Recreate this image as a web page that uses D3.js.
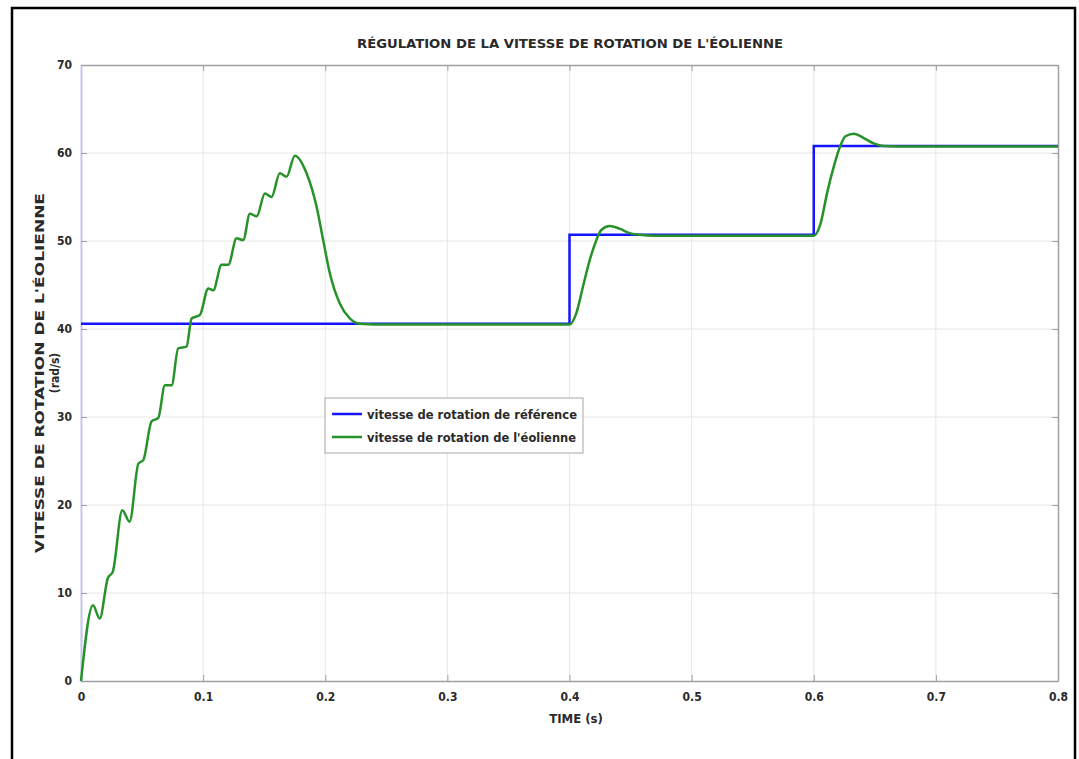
<!DOCTYPE html>
<html>
<head>
<meta charset="utf-8">
<script src="https://cdn.jsdelivr.net/npm/d3@7"></script>
<style>
  body { margin: 0; background: #fff; }
  svg { display: block; }
  text { font-family: "Liberation Sans Narrow", "DejaVu Sans Condensed", sans-serif; fill: #2a2a2a; font-weight: bold; }
</style>
</head>
<body>
<script>
// data
const refTime = [0, 0.4, 0.4, 0.6, 0.6, 0.8];
const refSpeed = [40.6, 40.6, 50.7, 50.7, 60.8, 60.8];

const rotorTime = [0, 0.0098, 0.0153, 0.022, 0.026, 0.0338, 0.0398, 0.047, 0.051, 0.0578,
  0.0633, 0.0687, 0.0742, 0.0796, 0.0864, 0.0906, 0.0974, 0.1042, 0.1083, 0.1151,
  0.1206, 0.1274, 0.1328, 0.1383, 0.1438, 0.1506, 0.156, 0.1628, 0.1683, 0.1751,
  0.1847, 0.1929, 0.1983, 0.2038, 0.2119, 0.2201, 0.2283, 0.25, 0.4, 0.4056,
  0.411, 0.4165, 0.422, 0.426, 0.4329, 0.441, 0.4493, 0.4575, 0.47, 0.6,
  0.6056, 0.611, 0.6165, 0.622, 0.626, 0.633, 0.641, 0.649, 0.657, 0.67, 0.8];
const rotorSpeed = [0, 8.6, 7.1, 11.7, 12.4, 19.4, 18.1, 24.7, 25.1, 29.5,
  29.9, 33.6, 33.6, 37.8, 38.0, 41.2, 41.6, 44.6, 44.4, 47.3,
  47.3, 50.3, 50.1, 53.1, 52.8, 55.4, 55.0, 57.7, 57.3, 59.7,
  57.7, 53.9, 50.1, 46.3, 42.9, 41.2, 40.6, 40.5, 40.5, 41.8,
  44.8, 47.8, 50.1, 51.25, 51.7, 51.4, 50.9, 50.7, 50.6, 50.6,
  52.0, 55.5, 58.5, 60.9, 61.9, 62.2, 61.7, 61.1, 60.8, 60.75, 60.75];

const xTicks = [0, 0.1, 0.2, 0.3, 0.4, 0.5, 0.6, 0.7, 0.8];
const yTicks = [0, 10, 20, 30, 40, 50, 60, 70];

const legendLabels = ['vitesse de rotation de référence', "vitesse de rotation de l'éolienne"];
const colors = ['#1414ff', '#26922a'];

const W = 1079, H = 759;
const plotLeft = 81, plotRight = 1058, plotTop = 65, plotBottom = 681;

const svg = d3.select('body').append('svg')
  .attr('width', W)
  .attr('height', H);

// outer figure frame
svg.append('rect')
  .attr('x', 12).attr('y', 8)
  .attr('width', 1063).attr('height', 780)
  .attr('fill', 'none')
  .attr('stroke', '#000')
  .attr('stroke-width', 2.5);

const x = d3.scaleLinear().domain([0, 0.8]).range([plotLeft, plotRight]);
const y = d3.scaleLinear().domain([0, 70]).range([plotBottom, plotTop]);

// grid
svg.append('g')
  .selectAll('line')
  .data(xTicks.slice(1, -1))
  .join('line')
  .attr('x1', (d) => x(d)).attr('x2', (d) => x(d))
  .attr('y1', plotTop).attr('y2', plotBottom)
  .attr('stroke', '#e6e6e6');
svg.append('g')
  .selectAll('line')
  .data(yTicks.slice(1, -1))
  .join('line')
  .attr('y1', (d) => y(d)).attr('y2', (d) => y(d))
  .attr('x1', plotLeft).attr('x2', plotRight)
  .attr('stroke', '#e6e6e6');

// axes with inward ticks
const fmt = (d) => (d === 0 ? '0' : d3.format('.1f')(d));
const gBottom = svg.append('g').attr('transform', `translate(0,${plotBottom})`)
  .call(d3.axisBottom(x).tickValues(xTicks).tickFormat(fmt).tickSizeInner(-6).tickSizeOuter(0).tickPadding(11));
const gTop = svg.append('g').attr('transform', `translate(0,${plotTop})`)
  .call(d3.axisTop(x).tickValues(xTicks).tickFormat('').tickSizeInner(-6).tickSizeOuter(0));
const gLeft = svg.append('g').attr('transform', `translate(${plotLeft},0)`)
  .call(d3.axisLeft(y).tickValues(yTicks).tickSizeInner(-6).tickSizeOuter(0).tickPadding(9));
const gRight = svg.append('g').attr('transform', `translate(${plotRight},0)`)
  .call(d3.axisRight(y).tickValues(yTicks).tickFormat('').tickSizeInner(-6).tickSizeOuter(0));

[gBottom, gTop, gLeft, gRight].forEach((g) => {
  g.select('.domain').attr('stroke', '#a0a0a0').attr('stroke-width', 1.5);
  g.selectAll('.tick line').attr('stroke', '#a0a0a0');
  g.selectAll('.tick text')
    .attr('font-size', 12)
    .attr('font-family', null)
    .attr('fill', null);
});
// the reference step starts at t = 0, so the left spine reads light blue
gLeft.select('.domain').attr('stroke', '#c4c4ee').attr('stroke-width', 2);

// lines
const line = d3.line()
  .x((d) => x(d[0]))
  .y((d) => y(d[1]));

svg.append('path')
  .datum(d3.zip(refTime, refSpeed))
  .attr('fill', 'none')
  .attr('stroke', colors[0])
  .attr('stroke-width', 2.5)
  .attr('d', line);

svg.append('path')
  .datum(d3.zip(rotorTime, rotorSpeed))
  .attr('fill', 'none')
  .attr('stroke', colors[1])
  .attr('stroke-width', 2.5)
  .attr('d', line.curve(d3.curveMonotoneX));

// title and axis labels
svg.append('text')
  .attr('x', 570).attr('y', 48)
  .attr('text-anchor', 'middle')
  .attr('font-size', 13)
  .attr('textLength', 426)
  .attr('lengthAdjust', 'spacingAndGlyphs')
  .text("RÉGULATION DE LA VITESSE DE ROTATION DE L'ÉOLIENNE");

svg.append('text')
  .attr('x', 576).attr('y', 723)
  .attr('text-anchor', 'middle')
  .attr('font-size', 13)
  .text('TIME (s)');

const yLab = svg.append('text')
  .attr('transform', `translate(44,${(plotTop + plotBottom) / 2}) rotate(-90)`)
  .attr('text-anchor', 'middle')
  .attr('font-size', 13);
yLab.append('tspan').attr('x', 0).attr('y', 0)
  .attr('textLength', 360)
  .attr('lengthAdjust', 'spacingAndGlyphs')
  .text("VITESSE DE ROTATION DE L'ÉOLIENNE");
yLab.append('tspan').attr('x', 0).attr('y', 15).attr('font-size', 12).text('(rad/s)');

// legend
const legend = svg.append('g').attr('transform', 'translate(325,398)');
legend.append('rect')
  .attr('width', 258).attr('height', 55)
  .attr('fill', '#fff')
  .attr('stroke', '#a8a8a8');
const items = legend.selectAll('g.item')
  .data(legendLabels)
  .join('g')
  .attr('class', 'item')
  .attr('transform', (d, i) => `translate(0,${16 + i * 23})`);
items.append('line')
  .attr('x1', 7).attr('x2', 37)
  .attr('stroke', (d, i) => colors[i])
  .attr('stroke-width', 2.5);
items.append('text')
  .attr('x', 42).attr('y', 4.5)
  .attr('font-size', 13)
  .attr('textLength', (d, i) => (i === 0 ? 210 : 209))
  .attr('lengthAdjust', 'spacingAndGlyphs')
  .text((d) => d);
</script>
</body>
</html>
